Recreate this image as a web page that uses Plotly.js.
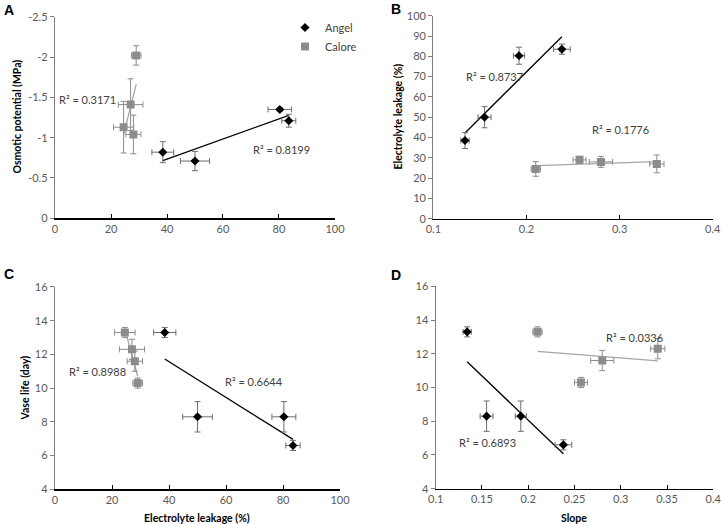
<!DOCTYPE html>
<html>
<head>
<meta charset="utf-8">
<script src="https://cdn.plot.ly/plotly-3.0.1.min.js"></script>
<style>html,body{margin:0;padding:0;background:#fff;}#chart{width:721px;height:524px;}</style>
</head>
<body>
<div id="chart"></div>
<script>
// ---- Data (treatment order) ----
const angelEL = [38.5, 50, 80.3, 83.5];
const angelELerr = [3.9, 5.2, 4.2, 2.5];
const angelOP = [-0.82, -0.71, -1.35, -1.21];
const angelOPerr = [0.13, 0.12, 0.02, 0.08];
const angelSlope = [0.134, 0.155, 0.192, 0.238];
const angelSlopeErr = [0.0045, 0.007, 0.006, 0.009];
const angelVL = [13.3, 8.3, 8.3, 6.6];
const angelVLerr = [0.3, 0.9, 0.9, 0.3];

const caloreEL = [24.5, 27, 28, 29];
const caloreELerr = [3.6, 4.4, 2.7, 1.7];
const caloreOP = [-1.13, -1.41, -1.04, -2.02];
const caloreOPerr = [0.32, 0.32, 0.24, 0.12];
const caloreSlope = [0.21, 0.34, 0.28, 0.257];
const caloreSlopeErr = [0.005, 0.0077, 0.0125, 0.007];
const caloreVL = [13.3, 12.3, 11.6, 10.3];
const caloreVLerr = [0.3, 0.6, 0.6, 0.3];

const seriesNames = ["Angel", "Calore"];
const r2Labels = {
  A: ["R\u00b2 = 0.8199", "R\u00b2 = 0.3171"],
  B: ["R\u00b2 = 0.8737", "R\u00b2 = 0.1776"],
  C: ["R\u00b2 = 0.6644", "R\u00b2 = 0.8988"],
  D: ["R\u00b2 = 0.6893", "R\u00b2 = 0.0336"]
};
const panelLetters = ["A", "B", "C", "D"];
const opTickVals = [0, -0.5, -1, -1.5, -2, -2.5];
const opTickText = ["0", "-0.5", "-1", "-1.5", "-2", "-2.5"];
const slopeTicksB = [0.1, 0.2, 0.3, 0.4];
const slopeTicksD = [0.1, 0.15, 0.2, 0.25, 0.3, 0.35, 0.4];

// ---- Styling ----
const FONT = "Lato, 'Open Sans', Arial, sans-serif";
const ANGEL_C = "#000000";
const CALORE_C = "#8c8c8c";
const ANGEL_ERR = "#6e6e6e";
const CALORE_ERR = "#8c8c8c";

function fit(xs, ys) {
  const n = xs.length;
  const mx = xs.reduce((a, b) => a + b, 0) / n;
  const my = ys.reduce((a, b) => a + b, 0) / n;
  let sxy = 0, sxx = 0;
  for (let i = 0; i < n; i++) { sxy += (xs[i] - mx) * (ys[i] - my); sxx += (xs[i] - mx) ** 2; }
  const b = sxy / sxx, a = my - b * mx;
  const x0 = Math.min(...xs), x1 = Math.max(...xs);
  return { x: [x0, x1], y: [a + b * x0, a + b * x1] };
}

const panels = [
  { xa: "x", ya: "y", ax: angelEL, axe: angelELerr, ay: angelOP, aye: angelOPerr,
    cx: caloreEL, cxe: caloreELerr, cy: caloreOP, cye: caloreOPerr, legend: true },
  { xa: "x2", ya: "y2", ax: angelSlope, axe: angelSlopeErr, ay: angelEL, aye: angelELerr,
    cx: caloreSlope, cxe: caloreSlopeErr, cy: caloreEL, cye: caloreELerr, legend: false },
  { xa: "x3", ya: "y3", ax: angelEL, axe: angelELerr, ay: angelVL, aye: angelVLerr,
    cx: caloreEL, cxe: caloreELerr, cy: caloreVL, cye: caloreVLerr, legend: false },
  { xa: "x4", ya: "y4", ax: angelSlope, axe: angelSlopeErr, ay: angelVL, aye: angelVLerr,
    cx: caloreSlope, cxe: caloreSlopeErr, cy: caloreVL, cye: caloreVLerr, legend: false }
];

const lineTraces = [], calTraces = [], angTraces = [];
panels.forEach(p => {
  const fa = fit(p.ax, p.ay), fc = fit(p.cx, p.cy);
  lineTraces.push({ x: fc.x, y: fc.y, xaxis: p.xa, yaxis: p.ya, mode: "lines", type: "scatter",
    line: { color: "#a6a6a6", width: 1.3 }, showlegend: false, hoverinfo: "skip" });
  lineTraces.push({ x: fa.x, y: fa.y, xaxis: p.xa, yaxis: p.ya, mode: "lines", type: "scatter",
    line: { color: "#000000", width: 1.3 }, showlegend: false, hoverinfo: "skip" });
  calTraces.push({ x: p.cx, y: p.cy, xaxis: p.xa, yaxis: p.ya, mode: "markers", type: "scatter",
    name: seriesNames[1], showlegend: p.legend,
    marker: { symbol: "square", size: 8, color: CALORE_C },
    error_x: { type: "data", array: p.cxe, color: CALORE_ERR, thickness: 1, width: 3 },
    error_y: { type: "data", array: p.cye, color: CALORE_ERR, thickness: 1, width: 3 } });
  angTraces.push({ x: p.ax, y: p.ay, xaxis: p.xa, yaxis: p.ya, mode: "markers", type: "scatter",
    name: seriesNames[0], showlegend: p.legend,
    marker: { symbol: "diamond", size: 7, color: ANGEL_C },
    error_x: { type: "data", array: p.axe, color: ANGEL_ERR, thickness: 1, width: 3 },
    error_y: { type: "data", array: p.aye, color: ANGEL_ERR, thickness: 1, width: 3 } });
});
const traces = lineTraces.concat(angTraces, calTraces);

const tickFont = { family: FONT, size: 11, color: "#595959" };
function xax(domain, range, anchor, extra) {
  return Object.assign({ domain, range, anchor, showgrid: false, zeroline: false,
    showline: true, linecolor: "#000", linewidth: 1.5, ticks: "inside", ticklen: 4,
    tickcolor: "#000", tickwidth: 1, tickfont: tickFont, fixedrange: true,
    ticklabeloverflow: "allow" }, extra);
}
function yax(domain, range, anchor, extra) {
  return Object.assign({ domain, range, anchor, showgrid: false, zeroline: false,
    showline: true, linecolor: "#7f7f7f", linewidth: 1.2, ticks: "outside", ticklen: 4,
    tickcolor: "#7f7f7f", tickwidth: 1, tickfont: tickFont, fixedrange: true,
    ticklabeloverflow: "allow" }, extra);
}

const r2Font = { family: FONT, size: 11, color: "#404040" };
const titleFont = { family: FONT, size: 10.5, color: "#000", weight: "bold" };
const letterFont = { family: "Liberation Sans, Arial, sans-serif", size: 14, color: "#000", weight: "bold" };

const annotations = [
  { xref: "x", yref: "y", x: 0.7, y: -1.47, text: r2Labels.A[1] },
  { xref: "x", yref: "y", x: 69.9, y: -0.85, text: r2Labels.A[0] },
  { xref: "x2", yref: "y2", x: 0.1333, y: 70.3, text: r2Labels.B[0] },
  { xref: "x2", yref: "y2", x: 0.2683, y: 44, text: r2Labels.B[1] },
  { xref: "x3", yref: "y3", x: 4.1, y: 11.0, text: r2Labels.C[1] },
  { xref: "x3", yref: "y3", x: 58.8, y: 10.42, text: r2Labels.C[0] },
  { xref: "x4", yref: "y4", x: 0.2822, y: 12.94, text: r2Labels.D[1] },
  { xref: "x4", yref: "y4", x: 0.1227, y: 6.71, text: r2Labels.D[0] }
].map(a => Object.assign(a, { showarrow: false, xanchor: "left", yanchor: "middle", font: r2Font }));

const titles = [
  { x: 16.5, y: 117, text: "Osmotic potential (MPa)", textangle: -90 },
  { x: 397.5, y: 117, text: "Electrolyte leakage (%)", textangle: -90 },
  { x: 24.5, y: 388, text: "Vase life (day)", textangle: -90 },
  { x: 197, y: 518, text: "Electrolyte leakage (%)" },
  { x: 574, y: 518, text: "Slope" }
];
titles.forEach(t => annotations.push({ xref: "paper", yref: "paper", x: t.x / 721, y: 1 - t.y / 524,
  text: t.text, textangle: t.textangle || 0, showarrow: false, xanchor: "center", yanchor: "middle", font: titleFont }));

const letterPos = [[9, 10], [396, 9], [9, 274], [396, 275]];
panelLetters.forEach((L, i) => {
  annotations.push({ xref: "paper", yref: "paper", x: letterPos[i][0] / 721, y: 1 - letterPos[i][1] / 524,
    text: L, showarrow: false, xanchor: "center", yanchor: "middle", font: letterFont });
});

const layout = {
  width: 721, height: 524,
  margin: { l: 0, r: 0, t: 0, b: 0 },
  paper_bgcolor: "#fff", plot_bgcolor: "rgba(0,0,0,0)",
  font: { family: FONT },
  showlegend: true,
  legend: { x: 285 / 721, y: 1 - 13 / 524, xanchor: "left", yanchor: "top",
    bgcolor: "rgba(0,0,0,0)", font: { family: FONT, size: 11, color: "#404040" },
    tracegroupgap: 4, traceorder: "normal" },
  xaxis: xax([0.0763, 0.4646], [0, 100], "y", { dtick: 20 }),
  yaxis: yax([0.5834, 0.9681], [0, -2.5], "x", { tickvals: opTickVals, ticktext: opTickText }),
  xaxis2: xax([0.601, 0.9885], [0.1, 0.4], "y2", { tickvals: slopeTicksB }),
  yaxis2: yax([0.5826, 0.97], [0, 100], "x2", { dtick: 10 }),
  xaxis3: xax([0.0763, 0.4716], [0, 100], "y3", { dtick: 20 }),
  yaxis3: yax([0.0662, 0.4523], [4, 16], "x3", { dtick: 2 }),
  xaxis4: xax([0.6043, 0.9893], [0.1, 0.4], "y4", { tickvals: slopeTicksD }),
  yaxis4: yax([0.0674, 0.4536], [4, 16], "x4", { dtick: 2 }),
  annotations
};

Plotly.newPlot("chart", traces, layout, { displayModeBar: false, staticPlot: true });
</script>
</body>
</html>
